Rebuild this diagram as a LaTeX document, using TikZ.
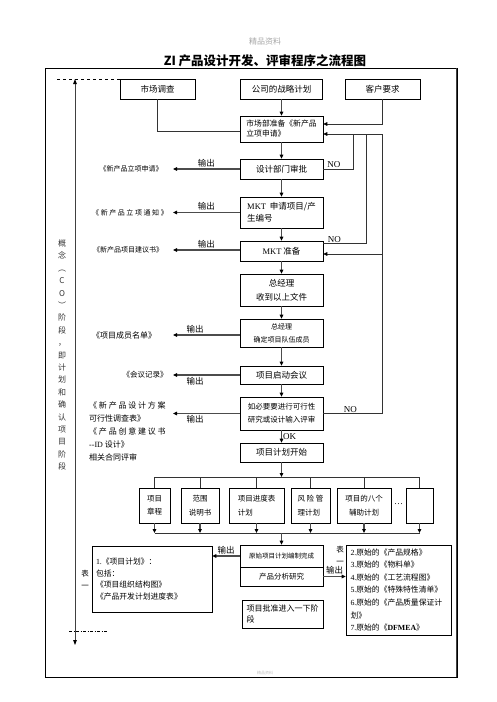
\documentclass[tikz,border=0pt]{standalone}
\usepackage{fontspec}
\setmainfont{Liberation Serif}
\newfontfamily\cjk{Noto Sans CJK SC}
\usetikzlibrary{arrows.meta, positioning}
\newcommand\fsz[2]{\fontsize{#1pt}{#2pt}\selectfont}
\newcommand\en[1]{{\rmfamily #1}}

\tikzset{
  box/.style={draw, line width=0.6pt, minimum width=83pt, inner sep=1.5pt, font=\cjk\fsz{8.5}{12}},
  pbox/.style={draw, line width=0.6pt, minimum height=35pt, inner sep=1pt, align=center, font=\cjk\fsz{7.5}{13.5}},
  doc/.style={font=\cjk\fsz{7}{13}, inner sep=0pt, align=left},
  lbl/.style={font=\cjk\fsz{8.5}{10}, inner sep=1.5pt},
  nolbl/.style={font=\rmfamily\fsz{9}{10}, inner sep=1pt},
  arr/.style={draw=black!70, line width=1.1pt, -{Triangle[length=4pt,width=3.6pt,color=black]}},
  fbline/.style={draw=black!80, line width=0.7pt},
  fbarr/.style={fbline, -{Triangle[length=4pt,width=3.6pt,color=black]}},
}

\begin{document}
\begin{tikzpicture}[x=1pt, y=-1pt, on grid, node distance=40pt]
  \useasboundingbox (0,0) rectangle (496,702);

  % header, title and frame
  \node[font=\cjk\fsz{8}{10}, text=black!35] (wm) at (265,41) {精品资料};
  \node[font=\cjk\bfseries\fsz{12.5}{14}] (title) at (265,61) {ZI 产品设计开发、评审程序之流程图};
  \draw[line width=0.7pt] (45,68) rectangle (457,677);
  \draw[line width=1.8pt, black!75] (456.5,68) -- (456.5,677);
  \node[font=\cjk\fsz{4}{5}, text=black!25] (ft) at (265,673) {精品资料};

  % inputs
  \node[box, minimum width=75pt, minimum height=20pt] (mr)    at (157.5,89) {市场调查};
  \node[box, minimum width=82pt, minimum height=20pt] (strat) at (281.5,89) {公司的战略计划};
  \node[box, minimum width=75pt, minimum height=20pt] (cust)  at (382.5,89) {客户要求};

  % main column
  \node[box, minimum height=26pt, align=left, font=\cjk\fsz{7.8}{10}] (prep) at (281.5,129) {市场部准备《新产品\\立项申请》};
  \node[box, minimum height=20pt] (approve) [below=40pt of prep] {设计部门审批};
  \node[box, minimum height=31pt, align=left, font=\cjk\fsz{8.5}{11.5}] (apply) [below=43.5pt of approve] {\en{MKT}\ \ 申请项目/产\\生编号};
  \node[box, minimum height=20pt] (mktp) [below=38.5pt of apply] {\en{MKT} 准备};
  \node[box, minimum height=32pt, align=center, font=\cjk\fsz{8.5}{14}] (gm1) [below=39pt of mktp] {总经理\\收到以上文件};
  \node[box, minimum height=28pt, align=center, font=\cjk\fsz{7}{13}] (gm2) [below=43pt of gm1] {总经理\\确定项目队伍成员};
  \node[box, minimum height=18pt] (kick) [below=42pt of gm2] {项目启动会议};
  \node[box, minimum height=33pt, align=center, font=\cjk\fsz{7.5}{13}] (feas) [below=38.5pt of kick] {如必要要进行可行性\\研究或设计输入评审};
  \node[box, minimum height=19pt] (start) [below=39pt of feas] {项目计划开始};

  \foreach \a/\b in {strat/prep, prep/approve, approve/apply, apply/mktp, mktp/gm1, gm1/gm2, gm2/kick, kick/feas}
    \draw[arr] (\a) -- (\b);
  \draw[arr] (feas) -- node[nolbl, right] {OK} (start);

  % feedback loops
  \coordinate (fb)  at (382,134);
  \coordinate (fb1) at (353,134);
  \coordinate (fb2) at (366,134);
  \coordinate (m3)  at ([yshift=-3pt]mktp.east);
  \draw[fbline] (mr.south) |- ([yshift=-2pt]prep.west);
  \draw[fbarr] (cust.south) |- ([yshift=5pt]prep.east);
  \draw[fbarr] (feas.east) -| node[nolbl, pos=0.23, above] {NO} (fb) -- ([yshift=-5pt]prep.east);
  \draw[fbarr] (fb |- m3) -- (m3);
  \draw[fbline] (approve.east) -| node[nolbl, pos=0.18, above] {NO} (fb1);
  \draw[fbline] ([yshift=7.5pt]mktp.east) -| node[nolbl, pos=0.13, above] {NO} (fb2);

  % outputs on the left
  \coordinate (outx) at (173,0);
  \node[doc] (d1) at (131,169) {《新产品立项申请》};
  \node[doc] (d2) at (130,213) {《 新 产 品 立 项 通 知 》};
  \node[doc] (d3) at (128,250) {《新产品项目建议书》};
  \node[doc, font=\cjk\fsz{8}{10}] (d4) at (124,335) {《项目成员名单》};
  \node[doc, font=\cjk\fsz{7.5}{10}] (d5) at (145,375) {《会议记录》};
  \node[doc, anchor=north west, font=\cjk\fsz{8}{13}] (d6) at (89,402) {《 新 产 品 设 计 方 案\\可行性调查表》\\《 产 品 创 意 建 议 书\\\en{-{}-ID} 设计》\\相关合同评审};

  \draw[arr] (approve.west) -- node[lbl, above] {输出} (approve.west -| outx);
  \draw[arr] (apply.west) -- node[lbl, above] {输出} (apply.west -| outx);
  \draw[arr] ([yshift=1pt]mktp.west) -- node[lbl, above] {输出} ([yshift=1pt]mktp.west -| outx);
  \draw[arr] ([yshift=-2pt]gm2.west) -- node[lbl, above, pos=0.67] {输出} ([yshift=-2pt]gm2.west -| outx);
  \draw[arr] (kick.west) -- node[lbl, below, pos=0.67] {输出} (kick.west -| outx);
  \draw[arr] (feas.west) -- node[lbl, below, pos=0.67] {输出} (feas.west -| outx);

  % plan documents
  \coordinate (bustop) at (281.5,477);
  \coordinate (busbot) at (281.5,533);
  \node[pbox, minimum width=31pt] (charter) at (154.5,505.5) {项目\\章程};
  \node[pbox, minimum width=38pt] (scope)   at (200,505.5)   {范围\\说明书};
  \node[pbox, minimum width=55pt, align=left] (sched) at (256.5,505.5) {项目进度表\\计划};
  \node[pbox, minimum width=39pt, align=left] (risk)  at (310.5,505.5) {风 险 管\\理计划};
  \node[pbox, minimum width=54pt] (aux)     at (364,505.5)   {项目的八个\\辅助计划};
  \node[nolbl] (dots) at (398.5,504) {\dots};
  \node[pbox, minimum width=27pt] (blank)   at (419.5,505.5) {};

  \draw[arr] (start) -- (start |- bustop);
  \draw[fbline, line width=0.8pt] (charter.north |- bustop) -- (blank.north |- bustop);
  \draw[fbline, line width=0.8pt] (charter.south |- busbot) -- (blank.south |- busbot);
  \foreach \p in {charter, scope, sched, risk, aux, blank} {
    \draw[fbline, line width=0.8pt] (\p.north |- bustop) -- (\p.north);
    \draw[arr] (\p.south) -- (\p.south |- busbot);
  }

  % plan results
  \node[box, minimum height=22pt, font=\cjk\fsz{6.5}{8}] (orig) at (281.5,556) {原始项目计划编制完成};
  \node[box, minimum height=19pt, font=\cjk\fsz{7.5}{9}] (anal) at (281.5,576.5) {产品分析研究};
  \node[box, minimum width=81pt, minimum height=28pt, align=left, font=\cjk\fsz{8}{11}] (next) at (282.5,614) {项目批准进入一下阶\\段};
  \draw[arr] (start |- busbot) -- (orig);

  \node[box, minimum width=120pt, minimum height=66pt, align=left, text width=112pt, font=\cjk\fsz{7.8}{11.8}] (lbox) at (152,579)
    {\en{1.}《项目计划》：\\包括：\\《项目组织结构图》\\《产品开发计划进度表》};
  \node[box, minimum width=105pt, minimum height=90pt, align=left, text width=96pt, font=\cjk\fsz{7.8}{12.6}] (rbox) at (398.5,590)
    {\en{2.}原始的《产品规格》\\\en{3.}原始的《物料单》\\\en{4.}原始的《工艺流程图》\\\en{5.}原始的《特殊特性清单》\\\en{6.}原始的《产品质量保证计\\划》\\\en{7.}原始的《\en{\bfseries DFMEA}》};

  \draw[arr] (orig.west) -- node[lbl, above] {输出} (orig.west -| lbox.east);
  \draw[arr] (anal.east) -- node[lbl, above] {输出} (anal.east -| rbox.west);
  \node[font=\cjk\fsz{7.5}{12}, align=center, inner sep=0pt] (tab1) at (85,579) {表\\一};
  \node[font=\cjk\fsz{7.5}{12}, align=center, inner sep=0pt] (tab2) at (340,555) {表\\一};

  % stage marker on the left
  \node[font=\cjk\fsz{8}{12.4}, align=center, inner sep=0pt, text=black!80] (stage) at (62,355)
    {概\\念\\︵\\C\\O\\︶\\阶\\段\\，\\即\\计\\划\\和\\确\\认\\项\\目\\阶\\段};
  \coordinate (phtop) at (75,79);
  \coordinate (phbot) at (75,645);
  \draw[draw=black!75, line width=0.9pt, {Triangle[length=5pt,width=3.6pt,color=black]}-{Triangle[length=5pt,width=3.6pt,color=black]}] (phtop) -- (phbot);
  \draw[dashed, line width=0.6pt] (57,79) -- (120,79);
  \draw[line width=0.6pt, dash pattern=on 3pt off 1.5pt on 1pt off 1.5pt] (69,631) -- (107,631);
\end{tikzpicture}
\end{document}
